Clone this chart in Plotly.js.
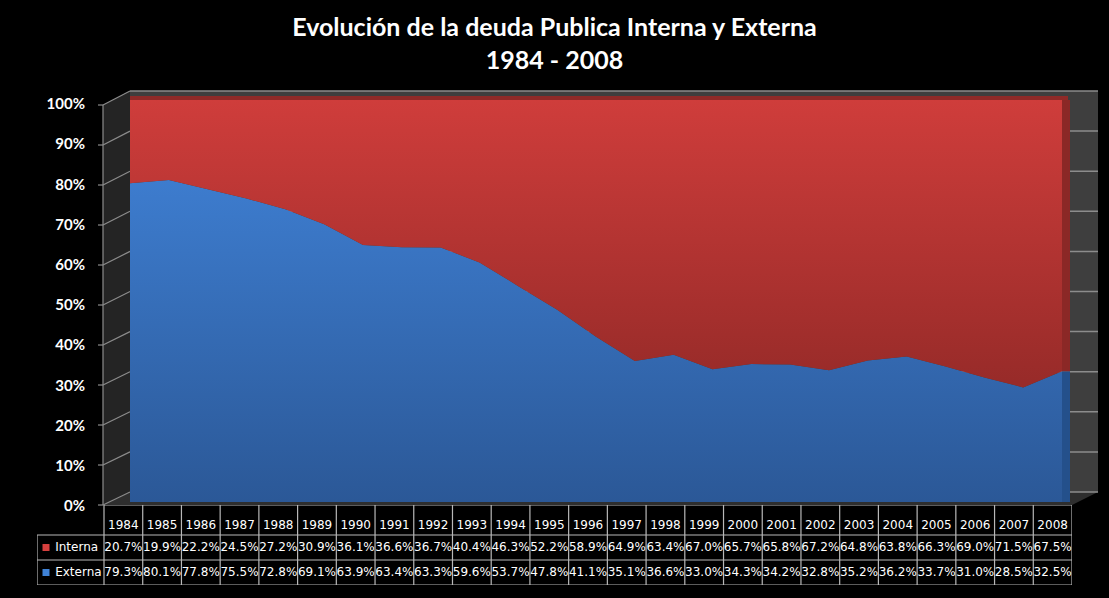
<!DOCTYPE html>
<html><head><meta charset="utf-8">
<script src="https://cdn.plot.ly/plotly-3.0.1.min.js"></script>
<style>html,body{margin:0;padding:0;background:#000;}#chart{width:1109px;height:598px;}</style>
</head><body><div id="chart"></div>
<script>
// ---- data ----
const years = [1984,1985,1986,1987,1988,1989,1990,1991,1992,1993,1994,1995,1996,1997,1998,1999,2000,2001,2002,2003,2004,2005,2006,2007,2008];
const interna = [20.7,19.9,22.2,24.5,27.2,30.9,36.1,36.6,36.7,40.4,46.3,52.2,58.9,64.9,63.4,67.0,65.7,65.8,67.2,64.8,63.8,66.3,69.0,71.5,67.5];
const externa = [79.3,80.1,77.8,75.5,72.8,69.1,63.9,63.4,63.3,59.6,53.7,47.8,41.1,35.1,36.6,33.0,34.3,34.2,32.8,35.2,36.2,33.7,31.0,28.5,32.5];
const seriesNames = ['Interna','Externa'];
const yTickVals = [0,10,20,30,40,50,60,70,80,90,100];
const yTickText = ['0%','10%','20%','30%','40%','50%','60%','70%','80%','90%','100%'];
const titleText = 'Evolución de la deuda Publica Interna y Externa<br>1984 - 2008';

// ---- layout helpers (pixels -> paper) ----
const W = 1109, H = 598;
const px = x => x / W;
const py = y => 1 - y / H;
const colW = (1072 - 104) / 25;
const x2Start = 1983.5 - (104 - 37) / colW;
const xPerYear = (1062 - 130) / (years.length - 1);
const xEnd = years[years.length - 1] + (1070 - 1062) / xPerYear;

const gridCol = '#8c8c8c';
const fmt = v => v.toFixed(1) + '%';
const tableFont = {family: 'DejaVu Sans', size: 12, color: '#ffffff'};

const traces = [
  {x: years, y: externa, name: seriesNames[1], type: 'scatter', mode: 'none', stackgroup: 'a', groupnorm: 'percent',
   xaxis: 'x', yaxis: 'y', hoverinfo: 'skip', showlegend: false,
   fillgradient: {type: 'vertical', start: 0, stop: 80, colorscale: [[0, '#2b5897'], [1, '#3d7cce']]}},
  {x: years, y: interna, name: seriesNames[0], type: 'scatter', mode: 'none', stackgroup: 'a',
   xaxis: 'x', yaxis: 'y', hoverinfo: 'skip', showlegend: false,
   fillgradient: {type: 'vertical', start: 30, stop: 100, colorscale: [[0, '#982b29'], [1, '#cf3d3b']]}},
  // table header (years)
  {x: years, y: years.map(() => 2.36), text: years.map(String), mode: 'text', type: 'scatter',
   xaxis: 'x2', yaxis: 'y2', textfont: tableFont, hoverinfo: 'skip', showlegend: false},
  {x: years, y: years.map(() => 1.5), text: interna.map(fmt), mode: 'text', type: 'scatter',
   xaxis: 'x2', yaxis: 'y2', textfont: tableFont, hoverinfo: 'skip', showlegend: false},
  {x: years, y: years.map(() => 0.5), text: externa.map(fmt), mode: 'text', type: 'scatter',
   xaxis: 'x2', yaxis: 'y2', textfont: tableFont, hoverinfo: 'skip', showlegend: false},
  // legend keys in table
  {x: [x2Start + 9 / colW, x2Start + 9 / colW], y: [1.5, 0.5], text: [' ' + seriesNames[0], ' ' + seriesNames[1]],
   mode: 'markers+text', textposition: 'middle right', type: 'scatter', xaxis: 'x2', yaxis: 'y2',
   marker: {symbol: 'square', size: 7, color: ['#d6403e', '#3f82d6']}, textfont: tableFont,
   hoverinfo: 'skip', showlegend: false}
];

// ---- decorative 3D frame (paper coords) ----
const shapes = [];
const poly = pts => 'M' + pts.map(p => px(p[0]) + ',' + py(p[1])).join('L') + 'Z';
shapes.push({type: 'path', xref: 'paper', yref: 'paper', layer: 'below', path: poly([[130,91],[1098,91],[1098,492],[130,492]]), fillcolor: '#3e3e3e', line: {width: 0}});
shapes.push({type: 'path', xref: 'paper', yref: 'paper', layer: 'below', path: poly([[103,105],[130,91],[130,492],[103,505]]), fillcolor: '#242424', line: {width: 0}});
shapes.push({type: 'path', xref: 'paper', yref: 'paper', layer: 'below', path: poly([[103,505],[130,492],[1098,492],[1072,505]]), fillcolor: '#2e2e2e', line: {width: 0}});
yTickVals.forEach((v, k) => {
  const yb = 492 - 40.1 * k, yf = 505 - 40 * k;
  shapes.push({type: 'line', xref: 'paper', yref: 'paper', layer: 'below', x0: px(130), x1: px(1098), y0: py(yb), y1: py(yb), line: {color: gridCol, width: 1.5}});
  shapes.push({type: 'line', xref: 'paper', yref: 'paper', layer: 'below', x0: px(103), x1: px(130), y0: py(yf), y1: py(yb), line: {color: gridCol, width: 1.2}});
  shapes.push({type: 'line', xref: 'paper', yref: 'paper', layer: 'below', x0: px(98), x1: px(103), y0: py(yf), y1: py(yf), line: {color: gridCol, width: 1.2}});
});
shapes.push({type: 'line', xref: 'paper', yref: 'paper', layer: 'below', x0: px(103), x1: px(103), y0: py(105), y1: py(505), line: {color: gridCol, width: 1.2}});
shapes.push({type: 'rect', xref: 'paper', yref: 'paper', layer: 'below', x0: px(130), x1: px(1068), y0: py(100), y1: py(96), fillcolor: '#8f2a28', line: {width: 0}});
// right side face of the area slab
const last = externa.length - 1;
shapes.push({type: 'rect', xref: 'x', yref: 'y', x0: years[last], x1: xEnd, y0: 0, y1: externa[last], fillcolor: '#24508b', line: {width: 0}});
shapes.push({type: 'rect', xref: 'x', yref: 'y', x0: years[last], x1: xEnd, y0: externa[last], y1: 100, fillcolor: '#8b2826', line: {width: 0}});

// ---- data table grid ----
const tCol = '#b8b8b8';
const tl = (x0, x1, y0, y1) => shapes.push({type: 'line', xref: 'x2', yref: 'y2', x0, x1, y0, y1, line: {color: tCol, width: 1.2}});
tl(x2Start, 2008.5, 0, 0);
tl(x2Start, 2008.5, 1, 1);
tl(x2Start, 2008.5, 2, 2);
tl(1983.5, 2008.5, 3.2, 3.2);
tl(x2Start, x2Start, 0, 2);
years.forEach(yr => tl(yr - 0.5, yr - 0.5, 0, 3.2));
tl(2008.5, 2008.5, 0, 3.2);

const layout = {
  width: W, height: H,
  margin: {l: 0, r: 0, t: 0, b: 0},
  paper_bgcolor: '#000000', plot_bgcolor: 'rgba(0,0,0,0)',
  showlegend: false,
  title: {text: titleText, x: 0.5, xanchor: 'center', y: 1 - 36 / H, yanchor: 'top', yref: 'container',
          font: {family: 'Lato', size: 25, color: '#ffffff', weight: 'bold'}},
  xaxis: {domain: [px(130), px(1070)], range: [years[0], xEnd], visible: false, anchor: 'y', fixedrange: true},
  yaxis: {domain: [py(502), py(100)], range: [0, 100], anchor: 'x', showgrid: false, zeroline: false, showline: false,
          ticks: '', tickvals: yTickVals, ticktext: yTickText, ticklabelstandoff: 44, ticklabelshift: 4,
          tickfont: {family: 'Lato', size: 15, color: '#ffffff', weight: 'bold'}, fixedrange: true},
  xaxis2: {domain: [px(37), px(1072)], range: [x2Start, 2008.5], visible: false, anchor: 'y2', fixedrange: true},
  yaxis2: {domain: [py(585), py(505)], range: [0, 3.2], visible: false, anchor: 'x2', fixedrange: true},
  shapes: shapes
};

Plotly.newPlot('chart', traces, layout, {displayModeBar: false, staticPlot: true});
</script></body></html>
